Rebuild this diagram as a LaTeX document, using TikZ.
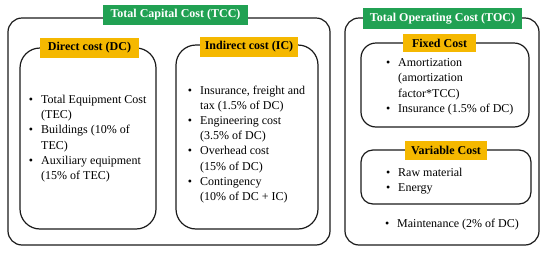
\documentclass[tikz,border=0pt]{standalone}
\usepackage{fontspec}
\setmainfont{Liberation Serif}
\usetikzlibrary{positioning}
\definecolor{tagGreen}{HTML}{21A153}
\definecolor{tagGold}{HTML}{F5B800}
\definecolor{frameBlack}{HTML}{1A1A1A}

\newenvironment{costlist}[1]{%
  \begin{minipage}{#1}\begin{list}{\textbullet}{%
    \setlength{\leftmargin}{14pt}\setlength{\labelsep}{8pt}%
    \setlength{\labelwidth}{6pt}\setlength{\itemsep}{0pt}%
    \setlength{\parsep}{0pt}\setlength{\topsep}{0pt}\setlength{\partopsep}{0pt}}}%
  {\end{list}\end{minipage}}

\begin{document}
\begin{tikzpicture}[
  x=1pt, y=-1pt,
  font=\fontsize{12}{15.2}\selectfont,
  outer/.style={draw=frameBlack, line width=1.2pt, rounded corners=14pt},
  inner/.style={draw=frameBlack, line width=1.2pt, rounded corners=20pt},
  tag/.style={fill=tagGold, inner sep=0pt, minimum height=20pt, font=\fontsize{12}{15}\selectfont\bfseries},
  greentag/.style={tag, fill=tagGreen, text=white},
  items/.style={anchor=north west, inner sep=0pt}
]
  \useasboundingbox (0,0) rectangle (550,255);

  % capital cost
  \node[outer, minimum width=322pt, minimum height=227pt] (tcc) at (169,131.5) {};
  \node[inner, minimum width=136pt, minimum height=181pt] (dc) at (88,138.5) {};
  \node[inner, minimum width=142pt, minimum height=184pt] (ic) at (247,137) {};
  \node[greentag, minimum width=145pt] (tccTag) at (175.5,15) {Total Capital Cost (TCC)};
  \node[tag, minimum width=99pt] (dcTag) at (89.5,48) {Direct cost (DC)};
  \node[tag, minimum width=98pt] (icTag) at (249,47) {Indirect cost (IC)};

  \node[items] (dcItems) at (27,95) {\begin{costlist}{125pt}
    \item Total Equipment Cost\\(TEC)
    \item Buildings (10\% of\\TEC)
    \item Auxiliary equipment\\(15\% of TEC)
  \end{costlist}};
  \node[items] (icItems) at (186,85.5) {\begin{costlist}{130pt}
    \item Insurance, freight and\\tax (1.5\% of DC)
    \item Engineering cost\\(3.5\% of DC)
    \item Overhead cost\\(15\% of DC)
    \item Contingency\\(10\% of DC + IC)
  \end{costlist}};

  % operating cost
  \node[outer, minimum width=194pt, minimum height=227pt] (toc) at (442,131.5) {};
  \node[outer, minimum width=168pt, minimum height=84pt, rounded corners=15pt] (fixed) at (445,85) {};
  \node[outer, minimum width=170pt, minimum height=54pt, rounded corners=12pt] (variable) at (446,177) {};
  \node[greentag, minimum width=159pt, minimum height=21pt] (tocTag) at (442.5,18.5) {Total Operating Cost (TOC)};
  \node[tag, minimum width=73pt, minimum height=18pt] (fixedTag) at (439.5,43) {Fixed Cost};
  \node[tag, minimum width=82pt, minimum height=19pt] (variableTag) at (446,150.5) {Variable Cost};

  \node[items] (fixedItems) at (384,58.5) {\begin{costlist}{145pt}
    \item Amortization\\(amortization\\factor*TCC)
    \item Insurance (1.5\% of DC)
  \end{costlist}};
  \node[items] (variableItems) at (384,167.5) {\begin{costlist}{145pt}
    \item Raw material
    \item Energy
  \end{costlist}};
  \node[items] (maintItems) at (383,219) {\begin{costlist}{150pt}
    \item Maintenance (2\% of DC)
  \end{costlist}};
\end{tikzpicture}
\end{document}
